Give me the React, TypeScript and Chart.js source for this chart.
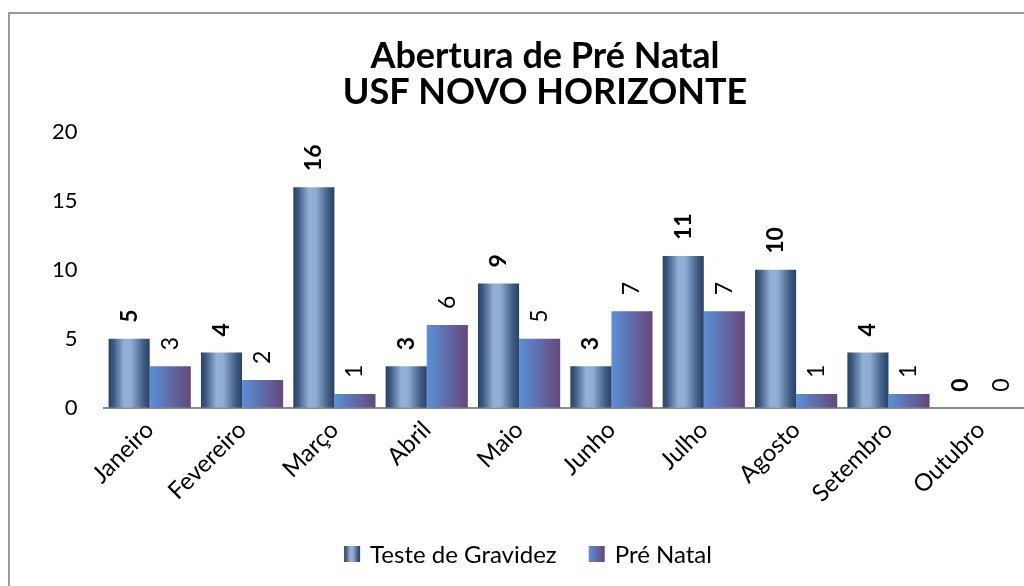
import React, { useEffect, useRef } from "react";
import { Chart, registerables } from "chart.js";

Chart.register(...registerables);

const categories = ["Janeiro", "Fevereiro", "Março", "Abril", "Maio", "Junho", "Julho", "Agosto", "Setembro", "Outubro"];
const testeGravidez = [5, 4, 16, 3, 9, 3, 11, 10, 4, 0];
const preNatal = [3, 2, 1, 6, 5, 7, 7, 1, 1, 0];
const seriesNames = ["Teste de Gravidez", "Pré Natal"];
const titleLines = ["Abertura de Pré Natal", "USF NOVO HORIZONTE"];

const FONT = "Lato, 'Open Sans', sans-serif";
const CAT_PCT = 0.89;

function gradS1(c: CanvasRenderingContext2D, x0: number, x1: number) {
  const g = c.createLinearGradient(x0, 0, x1, 0);
  g.addColorStop(0, "#2a4263");
  g.addColorStop(0.12, "#3d5a82");
  g.addColorStop(0.38, "#93b1d6");
  g.addColorStop(0.55, "#8fadd2");
  g.addColorStop(0.85, "#3f5c84");
  g.addColorStop(1, "#2a4263");
  return g;
}
function gradS2(c: CanvasRenderingContext2D, x0: number, x1: number) {
  const g = c.createLinearGradient(x0, 0, x1, 0);
  g.addColorStop(0, "#5a90d8");
  g.addColorStop(1, "#654779");
  return g;
}

function barColor(series: number) {
  return (ctx: any) => {
    const chart = ctx.chart;
    const xs = chart.scales && chart.scales.x;
    if (!xs || ctx.dataIndex === undefined || !chart.chartArea) return series === 0 ? "#6f8fb8" : "#5f6fae";
    const center = xs.getPixelForValue(ctx.dataIndex);
    const catW = xs.width / categories.length;
    const half = (catW * CAT_PCT) / 2;
    const x0 = series === 0 ? center - half : center;
    const x1 = series === 0 ? center : center + half;
    return series === 0 ? gradS1(chart.ctx, x0, x1) : gradS2(chart.ctx, x0, x1);
  };
}

const borderPlugin = {
  id: "outerBorder",
  beforeDraw(chart: any) {
    const c = chart.ctx;
    c.save();
    c.fillStyle = "#ffffff";
    c.fillRect(0, 0, chart.width, chart.height);
    c.strokeStyle = "#9a9a9a";
    c.lineWidth = 2;
    c.strokeRect(9, 13, 3000, 3000);
    c.restore();
  },
};

const titlePlugin = {
  id: "customTitle",
  afterDraw(chart: any) {
    const c = chart.ctx;
    c.save();
    c.font = "bold 36px " + FONT;
    c.fillStyle = "#000";
    c.textAlign = "center";
    c.textBaseline = "middle";
    titleLines.forEach((t, i) => c.fillText(t, 545, 56 + i * 36));
    c.restore();
  },
};

const labelPlugin = {
  id: "barLabels",
  afterDatasetsDraw(chart: any) {
    const c = chart.ctx;
    chart.data.datasets.forEach((ds: any, di: number) => {
      const meta = chart.getDatasetMeta(di);
      meta.data.forEach((el: any, i: number) => {
        c.save();
        c.translate(el.x, el.y - 16);
        c.rotate(-Math.PI / 2);
        c.font = (di === 0 ? "bold " : "") + "23px " + FONT;
        c.fillStyle = "#000";
        c.textAlign = "left";
        c.textBaseline = "middle";
        c.fillText(String(ds.data[i]), 0, 0);
        c.restore();
      });
    });
  },
};

const legendPlugin = {
  id: "customLegend",
  afterDraw(chart: any) {
    const c = chart.ctx;
    c.save();
    c.font = "24px " + FONT;
    const box = 16;
    const gapText = 10;
    const gapItem = 32;
    const widths = seriesNames.map((n) => c.measureText(n).width);
    const total = widths.reduce((a, w) => a + box + gapText + w, 0) + gapItem;
    let x = 528 - total / 2;
    const yc = 554;
    seriesNames.forEach((n, i) => {
      c.fillStyle = i === 0 ? gradS1(c, x, x + box) : gradS2(c, x, x + box);
      c.fillRect(x, yc - box / 2, box, box);
      x += box + gapText;
      c.fillStyle = "#000";
      c.textAlign = "left";
      c.textBaseline = "middle";
      c.fillText(n, x, yc + 1);
      x += widths[i] + gapItem;
    });
    c.restore();
  },
};

export default function App() {
  const ref = useRef<HTMLCanvasElement>(null);
  useEffect(() => {
    if (!ref.current) return;
    const chart = new Chart(ref.current, {
      type: "bar",
      data: {
        labels: categories,
        datasets: [
          { label: seriesNames[0], data: testeGravidez, backgroundColor: barColor(0), borderWidth: 0 },
          { label: seriesNames[1], data: preNatal, backgroundColor: barColor(1), borderWidth: 0 },
        ],
      },
      options: {
        responsive: false,
        animation: false,
        devicePixelRatio: 1,
        datasets: { bar: { categoryPercentage: CAT_PCT, barPercentage: 1 } },
        layout: { padding: { left: 26, right: 63, top: 132, bottom: 70 } },
        plugins: {
          legend: { display: false },
          tooltip: { enabled: false },
          title: { display: false },
        },
        scales: {
          x: {
            grid: { display: false, drawTicks: false },
            border: { display: true, color: "#8c8c8c", width: 2 },
            ticks: { color: "#000", font: { family: FONT, size: 24 }, minRotation: 45, maxRotation: 45, padding: 8 },
          },
          y: {
            min: 0,
            max: 20,
            grid: { display: false, drawTicks: false },
            border: { display: false },
            ticks: { stepSize: 5, color: "#000", font: { family: FONT, size: 22 }, padding: 26 },
          },
        },
      },
      plugins: [borderPlugin, labelPlugin, legendPlugin, titlePlugin],
    });
    return () => chart.destroy();
  }, []);
  return (
    <div style={{ position: "absolute", left: 0, top: 0, width: 1024, height: 586, overflow: "hidden", background: "#fff" }}>
      <canvas ref={ref} width={1090} height={586} style={{ width: 1090, height: 586, display: "block" }} />
    </div>
  );
}
